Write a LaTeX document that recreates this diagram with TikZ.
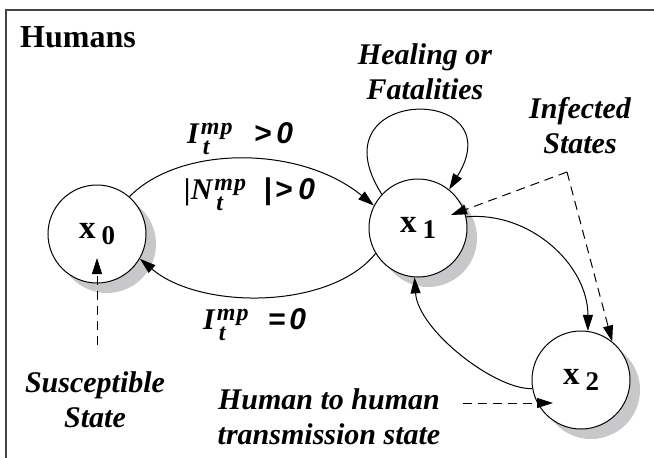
\documentclass[tikz,border=0pt]{standalone}
\usepackage{fontspec}
\setmainfont{Liberation Serif}
\newfontfamily\condsf{Liberation Sans}
\usepackage{tikz}
\usetikzlibrary{arrows.meta, shadows}
\definecolor{shadegray}{HTML}{C8C8CA}
\definecolor{framegray}{HTML}{454545}
% superscript mp over subscript t
\newcommand{\mpt}{\makebox[44pt][l]{\fontsize{24}{24}\selectfont
  \makebox[0pt][l]{\raisebox{-11pt}{\hspace{4pt}t}}\raisebox{9pt}{\hspace{2pt}m\hspace{1pt}p}}}
\newcommand{\relsf}{\condsf\fontsize{30}{34}\selectfont}

\begin{document}
\begin{tikzpicture}[
  x=1pt, y=-1pt,
  >={Triangle[length=16pt,width=10pt]},
  state/.style={circle, draw, fill=white, minimum size=98pt, inner sep=0pt,
                line width=1pt, font=\bfseries,
                general shadow={fill=shadegray, shadow xshift=10pt, shadow yshift=-10pt}},
  edge/.style={->, line width=1pt},
  hint/.style={->, line width=1pt, dash pattern=on 9pt off 6pt},
  lbl/.style={font=\fontsize{30}{35}\selectfont\bfseries\itshape, align=center,
              inner sep=0pt, anchor=north},
  cond/.style={font=\fontsize{30}{34}\selectfont\bfseries\itshape,
               inner sep=0pt, anchor=base west},
]
\useasboundingbox (0,0) rectangle (654,458);
\draw[framegray, line width=2pt] (6,460) |- (656,10);

\node[font=\fontsize{32}{36}\selectfont\bfseries, inner sep=0pt, anchor=base west]
  (title) at (20,47) {Humans};

% States
\node[state] (x0) at (97,234)
  {{\fontsize{33}{33}\selectfont x}\hspace{6pt}\raisebox{-6pt}{\fontsize{27}{27}\selectfont 0}};
\node[state] (x1) at (418,228)
  {{\fontsize{33}{33}\selectfont x}\hspace{6pt}\raisebox{-6pt}{\fontsize{27}{27}\selectfont 1}};
\node[state] (x2) at (581,380)
  {{\fontsize{33}{33}\selectfont x}\hspace{6pt}\raisebox{-6pt}{\fontsize{27}{27}\selectfont 2}};

% Transitions
\draw[edge] (x0.49) .. controls (180,145) and (300,145) .. (x1.153);
\draw[edge] (x1.211) .. controls (330,310) and (200,310) .. (x0.-30);
\draw[edge] (x1.137) .. controls (312,85) and (515,83) .. (x1.51);
\draw[edge] (x1.13) .. controls (530,211) and (588,265) .. (x2.82);
\draw[edge] (x2.190) .. controls (495,390) and (418,330) .. (x1.266);

% Conditions
\node[cond] (up)  at (187,143) {I\mpt\hspace{11pt}{\relsf >\hspace{5pt}0}};
\node[cond] (nup) at (184,199) {|N\mpt\hspace{7pt}{\relsf |\hspace{3pt}>\hspace{6pt}0}};
\node[cond] (dn)  at (203,329) {I\mpt\hspace{9pt}{\relsf =\hspace{4pt}0}};

% Annotations
\node[lbl] (heal) at (425,43) {Healing or\\Fatalities};
\node[lbl] (inf)  at (580,97) {Infected\\States};
\node[lbl] (sus)  at (95,371) {Susceptible\\State};
\node[lbl] (h2h)  at (329,388) {Human to human\\transmission state};

\coordinate (infc) at (567,172);
\coordinate (inft) at (451,215);
\coordinate (sust) at (97,258);
\coordinate (susf) at (97,345);
\coordinate (h2hf) at (463,403);
\coordinate (h2ht) at (553,403);
\draw[hint] (infc) -- (inft);
\draw[hint] (infc) -- (x2.51);
\draw[hint] (susf) -- (sust);
\draw[hint] (h2hf) -- (h2ht);
\end{tikzpicture}
\end{document}
